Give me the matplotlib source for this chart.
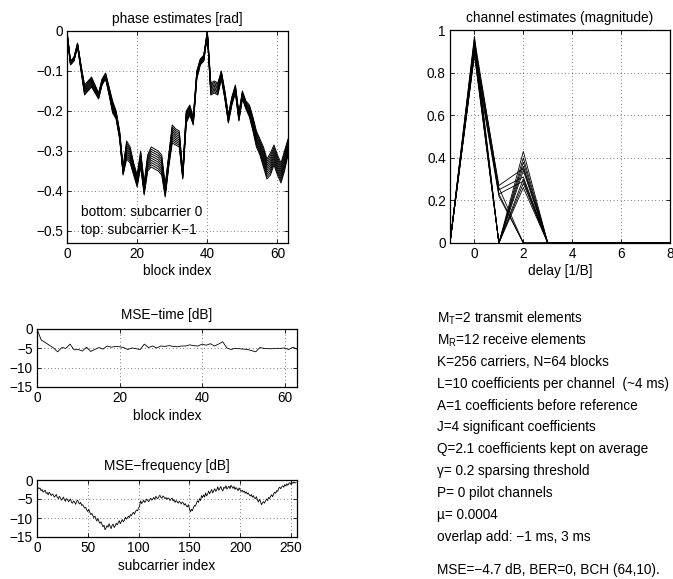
import numpy as np
import matplotlib
matplotlib.use('Agg')
import matplotlib.pyplot as plt
from matplotlib.ticker import FuncFormatter

plt.rcParams['font.family'] = ['Liberation Sans', 'DejaVu Sans']
plt.rcParams['mathtext.fontset'] = 'custom'
plt.rcParams['mathtext.rm'] = 'Liberation Sans'
plt.rcParams['mathtext.it'] = 'Liberation Sans:italic'
FS = 9.8
plt.rcParams['font.size'] = FS

# ---- data ----
# phase of subcarrier 0 per block, and extra phase at subcarrier K-1
phase_bottom = [-0.01, -0.085, -0.075, -0.04, -0.10, -0.16, -0.15, -0.14,
                -0.155, -0.17, -0.135, -0.12, -0.16, -0.205, -0.22, -0.27,
                -0.36, -0.32, -0.33, -0.36, -0.39, -0.34, -0.41, -0.35,
                -0.34, -0.345, -0.35, -0.36, -0.415, -0.34, -0.28, -0.285,
                -0.29, -0.37, -0.23, -0.21, -0.235, -0.12, -0.085, -0.075,
                -0.01, -0.16, -0.155, -0.16, -0.12, -0.17, -0.23, -0.185,
                -0.155, -0.225, -0.17, -0.195, -0.215, -0.25, -0.29, -0.31,
                -0.34, -0.37, -0.36, -0.335, -0.36, -0.38, -0.35, -0.31]
phase_spread = [0.01, 0.01, 0.01, 0.01, 0.015, 0.025, 0.025, 0.025,
                0.02, 0.015, 0.015, 0.015, 0.02, 0.03, 0.02, 0.02,
                0.02, 0.045, 0.04, 0.03, 0.03, 0.04, 0.03, 0.04,
                0.05, 0.05, 0.05, 0.05, 0.03, 0.03, 0.045, 0.04,
                0.04, 0.02, 0.03, 0.025, 0.02, 0.02, 0.015, 0.015,
                0.01, 0.03, 0.03, 0.03, 0.02, 0.02, 0.02, 0.02,
                0.02, 0.02, 0.02, 0.02, 0.03, 0.035, 0.04, 0.04,
                0.05, 0.05, 0.055, 0.05, 0.05, 0.05, 0.05, 0.04]
n_sub_lines = 10

delays = [-1, 0, 1, 2, 3, 4, 5, 6, 7, 8]
channel_mag = [
    [0, 0.97, 0, 0.43, 0, 0, 0, 0, 0, 0],
    [0, 0.95, 0, 0.40, 0, 0, 0, 0, 0, 0],
    [0, 0.93, 0, 0.38, 0, 0, 0, 0, 0, 0],
    [0, 0.92, 0, 0.36, 0, 0, 0, 0, 0, 0],
    [0, 0.90, 0, 0.34, 0, 0, 0, 0, 0, 0],
    [0, 0.91, 0, 0.30, 0, 0, 0, 0, 0, 0],
    [0, 0.89, 0, 0.28, 0, 0, 0, 0, 0, 0],
    [0, 0.88, 0, 0.26, 0, 0, 0, 0, 0, 0],
    [0, 0.94, 0.27, 0.35, 0, 0, 0, 0, 0, 0],
    [0, 0.92, 0.25, 0.31, 0, 0, 0, 0, 0, 0],
    [0, 0.90, 0.23, 0.29, 0, 0, 0, 0, 0, 0],
    [0, 0.96, 0.26, 0, 0, 0, 0, 0, 0, 0],
    [0, 0.93, 0.23, 0, 0, 0, 0, 0, 0, 0],
    [0, 0.89, 0.22, 0, 0, 0, 0, 0, 0, 0],
]

mse_time = [0, -2.8, -3.5, -4.2, -4.9, -5.9, -4.8, -5.0, -3.9, -5.4, -5.3,
            -5.7, -4.7, -5.8, -5.3, -4.8, -5.2, -4.4, -4.7, -4.5, -4.6, -4.8,
            -5.3, -4.9, -5.1, -5.3, -3.9, -4.8, -4.4, -4.9, -4.4, -4.5, -4.3,
            -4.5, -4.6, -4.4, -4.4, -4.1, -4.3, -4.4, -3.9, -4.2, -3.8, -4.4,
            -3.9, -3.3, -4.9, -5.3, -5.0, -5.1, -5.2, -5.3, -5.6, -5.9, -4.8,
            -5.0, -5.1, -5.1, -5.0, -5.0, -4.9, -5.3, -4.7, -5.2]

mse_freq = [
    -1.6, -2.0, -2.3, -2.1, -2.8, -2.5, -3.2, -3.0, -2.7, -3.5, -3.3, -3.9, -3.2, -3.6, -4.1, -3.7,
    -3.9, -4.5, -4.2, -3.8, -4.6, -4.9, -4.3, -4.7, -5.3, -5.0, -4.5, -5.2, -5.6, -4.9, -5.1, -5.7,
    -5.4, -5.0, -5.9, -6.1, -5.5, -5.8, -6.4, -5.6, -5.3, -6.0, -6.3, -5.9, -6.7, -6.5, -7.0, -7.4,
    -7.2, -7.9, -8.3, -7.7, -8.5, -9.1, -8.8, -9.4, -9.9, -9.5, -10.3, -10.8, -10.1, -10.9, -11.4, -11.0,
    -11.7, -12.3, -11.9, -13.1, -12.6, -12.0, -12.4, -11.5, -12.2, -12.8, -11.9, -11.6, -12.5, -12.1, -11.4, -11.8,
    -11.2, -10.7, -11.5, -10.9, -10.4, -11.0, -10.6, -9.8, -10.3, -10.0, -9.5, -9.9, -9.1, -9.4, -8.8, -8.5,
    -9.0, -8.3, -7.9, -8.1, -7.4, -6.9, -5.5, -6.2, -5.8, -5.3, -5.9, -5.6, -5.0, -5.4, -5.7, -5.2,
    -4.8, -5.3, -5.0, -4.6, -5.1, -4.3, -4.7, -4.9, -4.4, -4.0, -4.6, -4.8, -4.2, -4.5, -4.9, -4.6,
    -5.1, -4.7, -4.9, -5.4, -5.0, -4.8, -5.5, -5.2, -5.9, -5.4, -5.7, -6.1, -5.6, -5.9, -6.3, -5.8,
    -6.0, -6.6, -6.2, -6.8, -7.1, -6.5, -7.5, -8.4, -7.7, -8.1, -7.3, -6.7, -6.9, -6.1, -5.5, -5.9,
    -4.9, -5.4, -4.1, -4.6, -3.9, -4.5, -3.4, -4.2, -3.7, -2.9, -3.6, -3.1, -2.5, -3.4, -2.8, -2.3,
    -3.0, -2.6, -1.8, -2.7, -2.2, -1.7, -2.5, -2.9, -1.9, -2.2, -1.5, -2.4, -2.0, -1.6, -2.3, -1.4,
    -1.8, -2.2, -1.7, -2.5, -2.0, -2.3, -2.8, -2.1, -2.6, -3.0, -2.7, -3.2, -2.9, -3.5, -3.1, -3.7,
    -3.4, -3.9, -4.2, -3.8, -4.5, -4.1, -4.7, -4.9, -4.4, -5.2, -5.8, -5.1, -5.6, -6.5, -6.0, -5.7,
    -6.1, -5.5, -5.0, -5.4, -4.6, -4.9, -4.3, -3.9, -4.4, -3.6, -3.2, -3.5, -2.8, -3.0, -2.2, -1.9,
    -2.3, -1.8, -1.5, -1.9, -1.2, -1.6, -1.0, -1.4, -0.9, -0.7, -1.2, -0.6, -0.9, -0.5, -0.8, -0.7,
]

info_lines = [
    r'M$_\mathrm{T}$=2 transmit elements',
    r'M$_\mathrm{R}$=12 receive elements',
    'K=256 carriers, N=64 blocks',
    'L=10 coefficients per channel  (~4 ms)',
    'A=1 coefficients before reference',
    'J=4 significant coefficients',
    'Q=2.1 coefficients kept on average',
    'γ= 0.2 sparsing threshold',
    'P= 0 pilot channels',
    'µ= 0.0004',
    'overlap add: −1 ms, 3 ms',
]
summary_line = 'MSE=−4.7 dB, BER=0, BCH (64,10).'

g_fmt = FuncFormatter(lambda v, p: ('%g' % v).replace('-', '\u2212'))


def style_axes(ax):
    ax.tick_params(direction='in', length=3, width=0.6, top=True, right=True,
                   labelsize=FS, pad=3)
    for s in ax.spines.values():
        s.set_linewidth(0.9)
    ax.grid(True, color='black', linestyle=(0, (1, 4)), linewidth=0.5)


fig = plt.figure(figsize=(6.73, 5.79), dpi=100)
W, H = 673.0, 579.0


def box(l, t, r, b):
    return [l / W, 1 - b / H, (r - l) / W, (b - t) / H]


# phase estimates
ax1 = fig.add_axes(box(67, 31, 288, 243))
blocks = np.arange(len(phase_bottom))
pb = np.array(phase_bottom)
ps = np.array(phase_spread)
for k in range(n_sub_lines):
    ax1.plot(blocks, pb + ps * k / (n_sub_lines - 1), color='black', linewidth=0.7)
ax1.set_xlim(0, 63)
ax1.set_ylim(-0.53, 0)
ax1.set_xticks([0, 20, 40, 60])
ax1.set_yticks([0, -0.1, -0.2, -0.3, -0.4, -0.5])
ax1.yaxis.set_major_formatter(g_fmt)
ax1.set_title('phase estimates [rad]', fontsize=FS, pad=6)
ax1.set_xlabel('block index', labelpad=2)
ax1.text(4, -0.452, 'bottom: subcarrier 0', va='center', fontsize=FS)
ax1.text(4, -0.497, 'top: subcarrier K\u22121', va='center', fontsize=FS)
style_axes(ax1)

# channel estimates
ax2 = fig.add_axes(box(450, 30, 670, 243))
for row in channel_mag:
    ax2.plot(delays, row, color='black', linewidth=0.6)
ax2.set_xlim(-1, 8)
ax2.set_ylim(0, 1)
ax2.set_xticks([0, 2, 4, 6, 8])
ax2.set_yticks([0, 0.2, 0.4, 0.6, 0.8, 1])
ax2.yaxis.set_major_formatter(g_fmt)
ax2.set_title('channel estimates (magnitude)', fontsize=FS, pad=6)
ax2.set_xlabel('delay [1/B]', labelpad=2)
style_axes(ax2)

# MSE over time
ax3 = fig.add_axes(box(37, 329, 297, 387))
ax3.plot(np.arange(len(mse_time)), mse_time, color='black', linewidth=0.6)
ax3.set_xlim(0, 63)
ax3.set_ylim(-15, 0)
ax3.set_xticks([0, 20, 40, 60])
ax3.set_yticks([-15, -10, -5, 0])
ax3.set_title('MSE\u2212time [dB]', fontsize=FS, pad=7)
ax3.set_xlabel('block index', labelpad=3)
style_axes(ax3)

# MSE over frequency
ax4 = fig.add_axes(box(37, 480, 297, 537))
ax4.plot(np.arange(len(mse_freq)), mse_freq, color='black', linewidth=0.6)
ax4.set_xlim(0, 256)
ax4.set_ylim(-15, 0)
ax4.set_xticks([0, 50, 100, 150, 200, 250])
ax4.set_yticks([-15, -10, -5, 0])
ax4.set_title('MSE\u2212frequency [dB]', fontsize=FS, pad=7)
ax4.set_xlabel('subcarrier index', labelpad=3)
style_axes(ax4)

# parameter text
y0 = 318
for i, line in enumerate(info_lines):
    fig.text(437 / W, 1 - (y0 + 21.9 * i) / H, line, va='center', fontsize=FS)
fig.text(437 / W, 1 - 570 / H, summary_line, va='center', fontsize=FS)

fig.savefig('out.png', dpi=100)
